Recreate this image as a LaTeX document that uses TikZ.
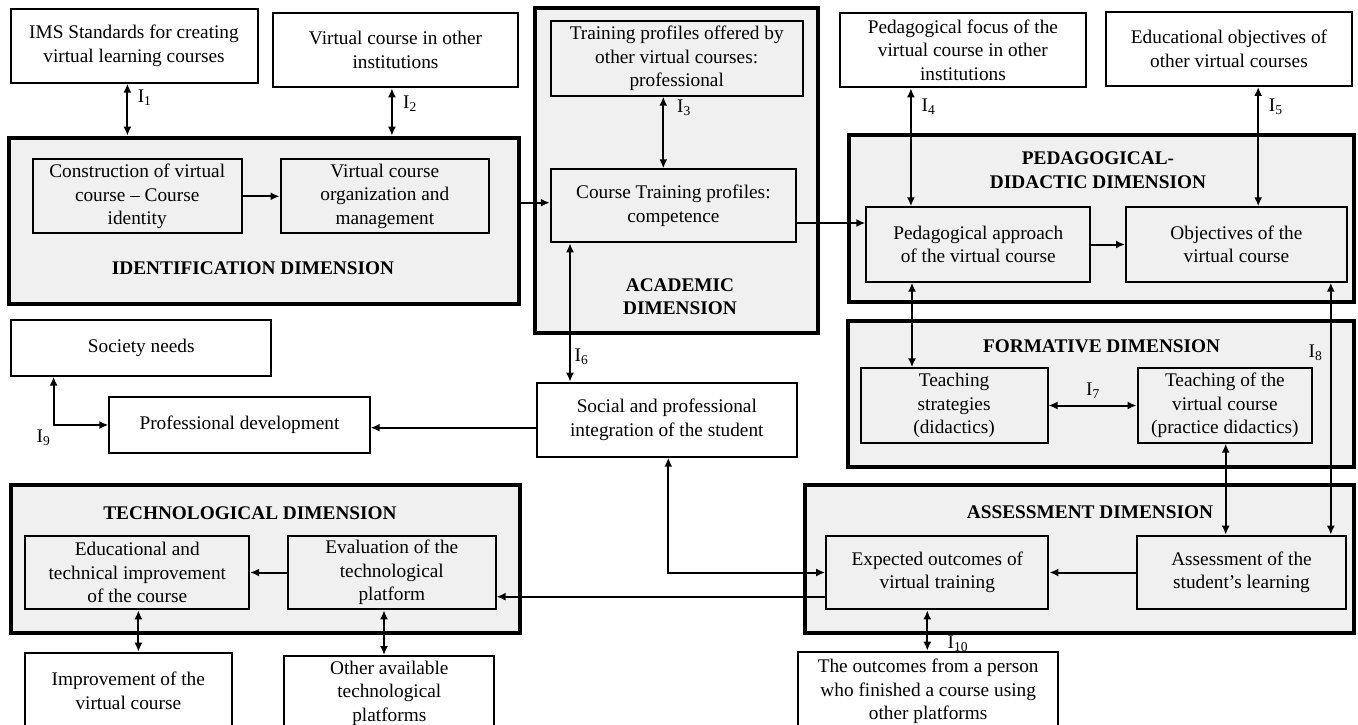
\documentclass[tikz,border=0pt]{standalone}
\usepackage{fontspec}
\setmainfont{Liberation Serif}
\usetikzlibrary{arrows.meta}
\definecolor{dimfill}{RGB}{240,240,240}
\begin{document}
\begin{tikzpicture}[x=1pt,y=-1pt,
  every node/.style={font=\fontsize{19.3}{23.5}\selectfont, align=center, inner sep=0pt},
  wbox/.style={draw, line width=2pt, fill=white},
  gbox/.style={draw, line width=2pt, fill=dimfill},
  dimbox/.style={draw, line width=4pt, fill=dimfill},
  dtitle/.style={font=\fontsize{19.3}{23.5}\selectfont\bfseries},
  conn/.style={line width=2pt, -{Latex[length=9pt,width=8pt]}},
  biconn/.style={line width=2pt, {Latex[length=9pt,width=8pt]}-{Latex[length=9pt,width=8pt]}}
]
\useasboundingbox[fill=white] (0,0) rectangle (1358,725);

% dimension boxes
\node[dimbox, minimum width=510.7pt, minimum height=166.6pt] (idd) at (264,221) {};
\node[dimbox, minimum width=283.3pt, minimum height=324.4pt] (acd) at (676.7,170.5) {};
\node[dimbox, minimum width=505pt, minimum height=166.7pt] (ped) at (1101,218.4) {};
\node[dimbox, minimum width=506pt, minimum height=146pt] (frm) at (1101,393.7) {};
\node[dimbox, minimum width=508.8pt, minimum height=148.3pt] (tec) at (265.6,559.2) {};
\node[dimbox, minimum width=549.5pt, minimum height=148.3pt] (asd) at (1079.3,559.2) {};

% titles
\node[dtitle] (iddt) at (253,268.3) {IDENTIFICATION DIMENSION};
\node[dtitle] (acdt) at (680,296.5) {ACADEMIC\\DIMENSION};
\node[dtitle] (pedt) at (1098,170) {PEDAGOGICAL-\\DIDACTIC DIMENSION};
\node[dtitle] (frmt) at (1101.6,346.7) {FORMATIVE DIMENSION};
\node[dtitle] (tect) at (250,513.3) {TECHNOLOGICAL DIMENSION};
\node[dtitle] (asdt) at (1090,512.7) {ASSESSMENT DIMENSION};

% outer white boxes
\node[wbox, minimum width=247pt, minimum height=73.3pt] (ims) at (134,46) {IMS Standards for creating\\virtual learning courses};
\node[wbox, minimum width=245.5pt, minimum height=74.6pt] (vco) at (395.5,50) {Virtual course in other\\institutions};
\node[wbox, minimum width=246pt, minimum height=74.6pt] (pfo) at (962.9,50) {Pedagogical focus of the\\virtual course in other\\institutions};
\node[wbox, minimum width=245.3pt, minimum height=74pt] (eoo) at (1229,49) {Educational objectives of\\other virtual courses};
\node[wbox, minimum width=260.2pt, minimum height=55.7pt] (soc) at (141.3,347.8) {Society needs};
\node[wbox, minimum width=260.2pt, minimum height=55.4pt] (prof) at (239.5,425) {Professional development};
\node[wbox, minimum width=259.7pt, minimum height=74pt] (sci) at (666.8,419.7) {Social and professional\\integration of the student};
\node[wbox, minimum width=207.5pt, minimum height=76pt] (impv) at (128.3,690.7) {Improvement of the\\virtual course};
\node[wbox, minimum width=209.8pt, minimum height=74.6pt] (oap) at (389.3,693.3) {Other available\\technological\\platforms};
\node[wbox, minimum width=260.3pt, minimum height=80pt] (opp) at (928.2,691.7) {The outcomes from a person\\who finished a course using\\other platforms};

% inner gray boxes
\node[gbox, minimum width=252pt, minimum height=74.7pt] (tpo) at (676.7,58.3) {Training profiles offered by\\other virtual courses:\\professional};
\node[gbox, minimum width=209pt, minimum height=74pt] (con) at (137.2,196.3) {Construction of virtual\\course -- Course\\identity};
\node[gbox, minimum width=208.4pt, minimum height=74pt] (org) at (384.8,196.3) {Virtual course\\organization and\\management};
\node[gbox, minimum width=245.3pt, minimum height=73pt] (ctp) at (673.4,205.8) {Course Training profiles:\\competence};
\node[gbox, minimum width=223.7pt, minimum height=74.4pt] (pa) at (978.2,244.5) {Pedagogical approach\\of the virtual course};
\node[gbox, minimum width=220.7pt, minimum height=74.4pt] (obj) at (1236.4,244.5) {Objectives of the\\virtual course};
\node[gbox, minimum width=186.8pt, minimum height=74.4pt] (ts) at (954.1,405.5) {Teaching\\strategies\\(didactics)};
\node[gbox, minimum width=174.7pt, minimum height=74.4pt] (tvc) at (1224.9,405.5) {Teaching of the\\virtual course\\(practice didactics)};
\node[gbox, minimum width=223.7pt, minimum height=73.6pt] (eti) at (137.3,572.5) {Educational and\\technical improvement\\of the course};
\node[gbox, minimum width=207.5pt, minimum height=73.6pt] (evp) at (391.8,572.5) {Evaluation of the\\technological\\platform};
\node[gbox, minimum width=222.3pt, minimum height=73.6pt] (eo) at (937.3,572.5) {Expected outcomes of\\virtual training};
\node[gbox, minimum width=208.9pt, minimum height=73.6pt] (asl) at (1241.5,572.5) {Assessment of the\\student’s learning};

% helper coordinates
\coordinate (cI1) at (127.4,0);
\coordinate (cI2) at (391.9,0);
\coordinate (cI3) at (663.3,0);
\coordinate (cI4) at (910.9,0);
\coordinate (cI5) at (1258.2,0);
\coordinate (cI6) at (570,0);
\coordinate (cPA) at (912,0);
\coordinate (cI8) at (1330.8,0);
\coordinate (cTV) at (1225.7,0);
\coordinate (cSE) at (668.3,0);
\coordinate (cI9) at (53.6,0);
\coordinate (cETI) at (138.4,0);
\coordinate (cEVP) at (384,0);
\coordinate (cI10) at (927.3,0);
\coordinate (yID) at (0,202.7);
\coordinate (yCP) at (0,223);
\coordinate (ySP) at (0,427.7);
\coordinate (yEV) at (0,596.7);

% connectors
\draw[biconn] (ims.south -| cI1) -- (idd.north -| cI1);
\draw[biconn] (vco.south -| cI2) -- (idd.north -| cI2);
\draw[conn] (con.east) -- (org.west);
\draw[conn] (idd.east |- yID) -- (ctp.west |- yID);
\draw[biconn] (tpo.south -| cI3) -- (ctp.north -| cI3);
\draw[conn] (ctp.east |- yCP) -- (pa.west |- yCP);
\draw[biconn] (ctp.south -| cI6) -- (sci.north -| cI6);
\draw[conn] (sci.west |- ySP) -- (prof.east |- ySP);
\draw[biconn] (soc.south -| cI9) |- (prof.west);
\draw[conn] (pa.east) -- (obj.west);
\draw[biconn] (pfo.south -| cI4) -- (pa.north -| cI4);
\draw[biconn] (eoo.south -| cI5) -- (obj.north -| cI5);
\draw[biconn] (pa.south -| cPA) -- (ts.north -| cPA);
\draw[biconn] (ts.east) -- (tvc.west);
\draw[biconn] (obj.south -| cI8) -- (asl.north -| cI8);
\draw[biconn] (tvc.south -| cTV) -- (asl.north -| cTV);
\draw[conn] (asl.west) -- (eo.east);
\draw[biconn] (sci.south -| cSE) |- (eo.west);
\draw[conn] (eo.west |- yEV) -- (evp.east |- yEV);
\draw[conn] (evp.west) -- (eti.east);
\draw[biconn] (eti.south -| cETI) -- (impv.north -| cETI);
\draw[biconn] (evp.south -| cEVP) -- (oap.north -| cEVP);
\draw[biconn] (eo.south -| cI10) -- (opp.north -| cI10);

% labels
\node (l1) at (144.6,98) {I\textsubscript{1}};
\node (l2) at (410,104) {I\textsubscript{2}};
\node (l3) at (684,108) {I\textsubscript{3}};
\node (l4) at (928.5,106.7) {I\textsubscript{4}};
\node (l5) at (1275.7,106.7) {I\textsubscript{5}};
\node (l6) at (581.5,356.7) {I\textsubscript{6}};
\node (l7) at (1093,391) {I\textsubscript{7}};
\node (l8) at (1315.5,352.5) {I\textsubscript{8}};
\node (l9) at (43.5,438) {I\textsubscript{9}};
\node (l10) at (957.8,644) {I\textsubscript{10}};
\end{tikzpicture}
\end{document}
